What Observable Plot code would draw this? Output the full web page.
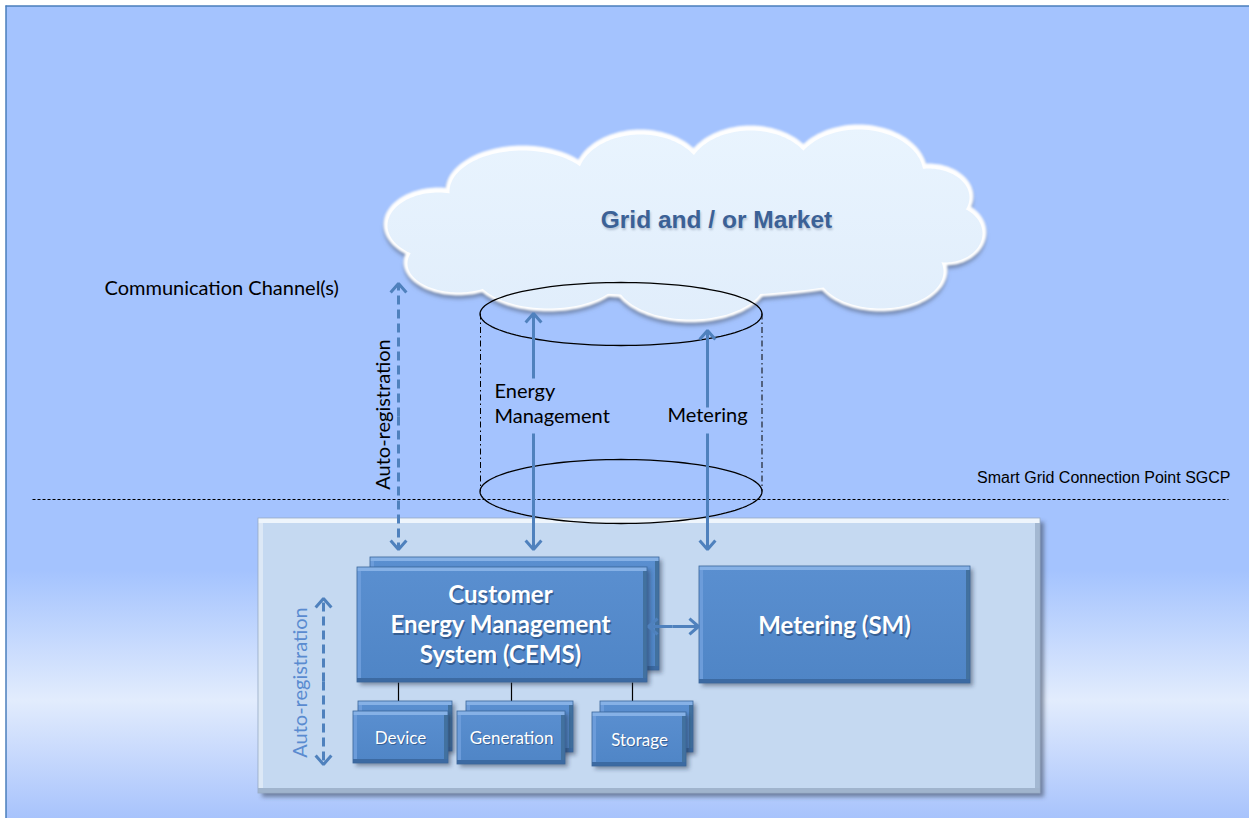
<!DOCTYPE html>
<html><head><meta charset="utf-8">
<script src="https://cdn.jsdelivr.net/npm/d3@7"></script>
<script src="https://cdn.jsdelivr.net/npm/@observablehq/plot@0.6"></script>
<style>html,body{margin:0;padding:0;overflow:hidden;background:#fff}</style>
</head><body><div id="chart"></div>
<script>
// ---------- Text content ----------
const cloudLabel = "Grid and / or Market";
const channelLabel = "Communication Channel(s)";
const autoRegLabel = "Auto-registration";
const flowLabels = ["Energy", "Management", "Metering"];
const sgcpLabel = "Smart Grid Connection Point SGCP";
const cemsLines = ["Customer", "Energy Management", "System (CEMS)"];
const meterLabel = "Metering (SM)";
const subLabels = ["Device", "Generation", "Storage"];

// ---------- Layout (diagram geometry, pixels) ----------
const frameArea = [{x1: 6, x2: 1249, y1: 6, y2: 818}];
const borderLines = [{x1: 5, y1: 5.5, x2: 1249, y2: 5.5}, {x1: 5.5, y1: 5, x2: 5.5, y2: 818}];
const sgcpLine = [{x1: 32, y1: 499, x2: 1228, y2: 499}];
const containerBox = [{x1: 258, x2: 1040, y1: 518, y2: 793}];
const cemsBack = [{x1: 370, x2: 659, y1: 557, y2: 670}];
const cemsFront = [{x1: 357, x2: 647, y1: 567, y2: 682}];
const meterBox = [{x1: 699, x2: 970, y1: 566, y2: 683}];
const subBack = [{x1: 358, x2: 452, y1: 701, y2: 751}, {x1: 466, x2: 573, y1: 701, y2: 752}, {x1: 600, x2: 693, y1: 701, y2: 752}];
const subFront = [{x1: 353, x2: 448, y1: 711, y2: 763}, {x1: 457, x2: 565, y1: 711, y2: 764}, {x1: 592, x2: 686, y1: 712, y2: 766}];
const subTextPos = [{x: 400, y: 738}, {x: 511, y: 738}, {x: 639, y: 740}];
const connectors = [{x1: 398, x2: 398, y1: 682, y2: 701}, {x1: 511, x2: 511, y1: 682, y2: 701}, {x1: 632, x2: 632, y1: 682, y2: 701}];
const cloudPuffs = [
  {cx: 438, cy: 224, rx: 52, ry: 34}, {cx: 458, cy: 262, rx: 52, ry: 30},
  {cx: 522, cy: 190, rx: 74, ry: 42}, {cx: 640, cy: 177, rx: 64, ry: 45},
  {cx: 750, cy: 173, rx: 64, ry: 45}, {cx: 858, cy: 173, rx: 66, ry: 46},
  {cx: 928, cy: 196, rx: 42, ry: 30}, {cx: 945, cy: 232, rx: 38, ry: 30},
  {cx: 880, cy: 270, rx: 64, ry: 38}, {cx: 690, cy: 278, rx: 76, ry: 41},
  {cx: 548, cy: 272, rx: 74, ry: 36}, {cx: 685, cy: 232, rx: 270, ry: 64}
];
const cylinderEnds = [{cx: 620.5, cy: 313.5, rx: 141, ry: 31.5}, {cx: 620.5, cy: 491, rx: 141, ry: 32}];
const cylinderSides = [{x1: 480, x2: 480, y1: 313, y2: 491}, {x1: 761.5, x2: 761.5, y1: 313, y2: 491}];
const arrows = [
  {x1: 398, y1: 416, x2: 398, y2: 283, dash: true}, {x1: 398, y1: 416, x2: 398, y2: 549, dash: true},
  {x1: 533, y1: 378, x2: 533, y2: 313}, {x1: 533, y1: 433, x2: 533, y2: 549},
  {x1: 707, y1: 407, x2: 707, y2: 330}, {x1: 707, y1: 433, x2: 707, y2: 549},
  {x1: 672, y1: 626, x2: 648, y2: 626}, {x1: 672, y1: 626, x2: 698, y2: 626},
  {x1: 323, y1: 681, x2: 323, y2: 598, dash: true}, {x1: 323, y1: 681, x2: 323, y2: 764, dash: true}
];
const labelPos = {
  cloud: {x: 716, y: 220}, channel: {x: 104, y: 288}, autoTop: {x: 383, y: 414}, autoIn: {x: 300, y: 682},
  energy: {x: 494, y: 391}, management: {x: 494, y: 416}, metering: {x: 707, y: 415}, sgcp: {x: 1230, y: 477},
  cems: [{x: 500, y: 595}, {x: 500, y: 625}, {x: 500, y: 655}], meter: {x: 834, y: 626}
};

// ---------- helpers ----------
const ARROW = "#4f81bd";
const SH_BOX = "#1e2f48", SH_CONT = "#3f4e66", SH_CLOUD = "#66789a", RIM = "#fefefe", SH_TEXT = "#8f9fb6";
function ellipsePts(list, grow = 0, dy = 0) {
  const out = [];
  list.forEach((e, i) => {
    for (let a = 0; a < 360; a += 3) {
      const t = a * Math.PI / 180;
      out.push({id: i, x: e.cx + (e.rx + grow) * Math.cos(t), y: e.cy + dy + (e.ry + grow) * Math.sin(t)});
    }
  });
  return out;
}
function chevrons(list, L = 12, deg = 41) {
  const th = deg * Math.PI / 180, out = [];
  list.forEach((a, i) => {
    let dx = a.x2 - a.x1, dy = a.y2 - a.y1; const n = Math.hypot(dx, dy); dx /= n; dy /= n;
    const w = s => ({x: a.x2 - L * (dx * Math.cos(s * th) - dy * Math.sin(s * th)), y: a.y2 - L * (dx * Math.sin(s * th) + dy * Math.cos(s * th)), id: i});
    out.push(w(1), {x: a.x2, y: a.y2, id: i}, w(-1));
  });
  return out;
}
const xy = {x1: "x1", x2: "x2", y1: "y1", y2: "y2"};
function boxMarks(boxes, s) {
  const band = f => boxes.map(f);
  return [
    Plot.rect(boxes.map(b => ({x1: b.x1 + s.sh, x2: b.x2 + s.sh, y1: b.y1 + s.sh, y2: b.y2 + s.sh})), {...xy, fill: s.shadow, fillOpacity: s.shOp}),
    Plot.rect(boxes, {...xy, fill: s.fill}),
    Plot.rect(band(b => ({x1: b.x1, x2: b.x1 + s.w, y1: b.y1, y2: b.y2})), {...xy, fill: s.left}),
    Plot.rect(band(b => ({x1: b.x2 - s.w, x2: b.x2, y1: b.y1, y2: b.y2})), {...xy, fill: s.right}),
    Plot.rect(band(b => ({x1: b.x1, x2: b.x2, y1: b.y1, y2: b.y1 + s.w})), {...xy, fill: s.top}),
    Plot.rect(band(b => ({x1: b.x1, x2: b.x2, y1: b.y2 - s.w, y2: b.y2})), {...xy, fill: s.bottom}),
    Plot.rect(boxes, {...xy, fill: "none", stroke: s.outline, strokeWidth: 0.8})
  ];
}
const blueStyle = {fill: "url(#boxGrad)", top: "#86b1e6", left: "#6c9cda", right: "#42719f", bottom: "#3c6aa2", outline: "#3a679c", w: 4, sh: 3, shadow: SH_BOX, shOp: 0.45};
const contStyle = {fill: "#c5d9f1", top: "#eef5fc", left: "#dce8f6", right: "#a3b8d2", bottom: "#a0b4cd", outline: "#98acc6", w: 5, sh: 4, shadow: SH_CONT, shOp: 0.6};
const LATO = "Lato, 'Open Sans', sans-serif";
const ARIAL = "'Liberation Sans', Arial, sans-serif";
const lbl = (p, extra) => ({x: () => p.x, y: () => p.y, text: d => d, ...extra});

const svg = Plot.plot({
  width: 1249, height: 818, margin: 0,
  x: {domain: [0, 1249], range: [0, 1249], axis: null},
  y: {domain: [0, 818], range: [0, 818], axis: null},
  style: {background: "#ffffff", overflow: "visible"},
  marks: [
    Plot.rect(frameArea, {...xy, fill: "url(#bgGrad)"}),
    Plot.link(borderLines, {...xy, stroke: "#4a7ebb", strokeWidth: 1.5}),
    Plot.link(sgcpLine, {...xy, stroke: "#000", strokeWidth: 1, strokeDasharray: "3,2"}),
    ...boxMarks(containerBox, contStyle),
    // cloud: shadow, white rim, light fill
    Plot.line(ellipsePts(cloudPuffs, 2, 4), {x: "x", y: "y", z: "id", curve: "linear-closed", fill: SH_CLOUD, fillOpacity: 0.85, stroke: "none"}),
    Plot.line(ellipsePts(cloudPuffs, 3, 0), {x: "x", y: "y", z: "id", curve: "linear-closed", fill: RIM, stroke: "none"}),
    Plot.line(ellipsePts(cloudPuffs, -1, 1), {x: "x", y: "y", z: "id", curve: "linear-closed", fill: "url(#cloudGrad)", stroke: "none"}),
    Plot.text([cloudLabel], {x: () => labelPos.cloud.x + 1, y: () => labelPos.cloud.y + 2, text: d => d, fontFamily: ARIAL, fontWeight: "bold", fontSize: 24.5, fill: SH_TEXT, fillOpacity: 0.6}),
    Plot.text([cloudLabel], lbl(labelPos.cloud, {fontFamily: ARIAL, fontWeight: "bold", fontSize: 24.5, fill: "#3b6196"})),
    // cylinder
    Plot.line(ellipsePts(cylinderEnds), {x: "x", y: "y", z: "id", curve: "linear-closed", stroke: "#000", strokeWidth: 1.3, fill: "none"}),
    Plot.link(cylinderSides, {...xy, stroke: "#000", strokeWidth: 1, strokeDasharray: "6,3,1.5,3"}),
    // boxes
    Plot.link(connectors, {...xy, stroke: "#000", strokeWidth: 1.2}),
    ...boxMarks(cemsBack, blueStyle),
    ...boxMarks(cemsFront, blueStyle),
    ...boxMarks(meterBox, blueStyle),
    ...boxMarks(subBack, blueStyle),
    ...boxMarks(subFront, blueStyle),
    // arrows
    Plot.link(arrows.filter(a => !a.dash), {...xy, stroke: ARROW, strokeWidth: 3}),
    Plot.link(arrows.filter(a => a.dash), {...xy, stroke: ARROW, strokeWidth: 3, strokeDasharray: "9,5"}),
    Plot.line(chevrons(arrows), {x: "x", y: "y", z: "id", stroke: ARROW, strokeWidth: 3, strokeLinejoin: "miter", strokeLinecap: "butt"}),
    // plain labels
    Plot.text([channelLabel], lbl(labelPos.channel, {textAnchor: "start", fontFamily: LATO, fontSize: 20, fill: "#000"})),
    Plot.text([autoRegLabel], lbl(labelPos.autoTop, {rotate: -90, fontFamily: LATO, fontSize: 20, fill: "#000"})),
    Plot.text([autoRegLabel], lbl(labelPos.autoIn, {rotate: -90, fontFamily: LATO, fontSize: 20, fill: "#5a8bd0"})),
    Plot.text([flowLabels[0]], lbl(labelPos.energy, {textAnchor: "start", fontFamily: LATO, fontSize: 20, fill: "#000"})),
    Plot.text([flowLabels[1]], lbl(labelPos.management, {textAnchor: "start", fontFamily: LATO, fontSize: 20, fill: "#000"})),
    Plot.text([flowLabels[2]], lbl(labelPos.metering, {fontFamily: LATO, fontSize: 20, fill: "#000"})),
    Plot.text([sgcpLabel], lbl(labelPos.sgcp, {textAnchor: "end", fontFamily: ARIAL, fontSize: 16, fill: "#000"})),
    // box labels (shadow + white)
    Plot.text(cemsLines, {x: (d, i) => labelPos.cems[i].x + 1.2, y: (d, i) => labelPos.cems[i].y + 1.5, text: d => d, fontFamily: LATO, fontWeight: "bold", fontSize: 24, fill: "#1d3a63", fillOpacity: 0.55}),
    Plot.text(cemsLines, {x: (d, i) => labelPos.cems[i].x, y: (d, i) => labelPos.cems[i].y, text: d => d, fontFamily: LATO, fontWeight: "bold", fontSize: 24, fill: "#ffffff"}),
    Plot.text([meterLabel], {x: () => labelPos.meter.x + 1.2, y: () => labelPos.meter.y + 1.5, text: d => d, fontFamily: LATO, fontWeight: "bold", fontSize: 24, fill: "#1d3a63", fillOpacity: 0.55}),
    Plot.text([meterLabel], lbl(labelPos.meter, {fontFamily: LATO, fontWeight: "bold", fontSize: 24, fill: "#ffffff"})),
    Plot.text(subLabels, {x: (d, i) => subTextPos[i].x + 1, y: (d, i) => subTextPos[i].y + 1.2, text: d => d, fontFamily: LATO, fontSize: 17, fill: "#1d3a63", fillOpacity: 0.5}),
    Plot.text(subLabels, {x: (d, i) => subTextPos[i].x, y: (d, i) => subTextPos[i].y, text: d => d, fontFamily: LATO, fontSize: 17, fill: "#ffffff"})
  ]
});

d3.select(svg).insert("defs", ":first-child").html(`
<linearGradient id="bgGrad" x1="0" y1="0" x2="0" y2="1">
  <stop offset="0" stop-color="#a4c3fe"/>
  <stop offset="0.695" stop-color="#a4c3fe"/>
  <stop offset="0.855" stop-color="#e2ecfd"/>
  <stop offset="1" stop-color="#a8c3fc"/>
</linearGradient>
<linearGradient id="cloudGrad" gradientUnits="userSpaceOnUse" x1="0" y1="125" x2="0" y2="330">
  <stop offset="0" stop-color="#e9f4fe"/>
  <stop offset="1" stop-color="#e0edfb"/>
</linearGradient>
<linearGradient id="boxGrad" x1="0" y1="0" x2="0" y2="1">
  <stop offset="0" stop-color="#5a8fd0"/>
  <stop offset="1" stop-color="#4f85c6"/>
</linearGradient>
<filter id="blurS" x="-10%" y="-10%" width="120%" height="120%"><feGaussianBlur stdDeviation="2.2"/></filter>
<filter id="blurR" x="-10%" y="-10%" width="120%" height="120%"><feGaussianBlur stdDeviation="0.8"/></filter>
<filter id="blurT" x="-10%" y="-50%" width="120%" height="200%"><feGaussianBlur stdDeviation="1"/></filter>
`);
const sel = (f, filt) => d3.select(svg).selectAll(`g[fill="${f}"]`).attr("filter", `url(#${filt})`);
sel(SH_BOX, "blurS"); sel(SH_CONT, "blurS"); sel(SH_CLOUD, "blurS"); sel(RIM, "blurR"); sel(SH_TEXT, "blurT");
document.getElementById("chart").appendChild(svg);
</script>
</body></html>
